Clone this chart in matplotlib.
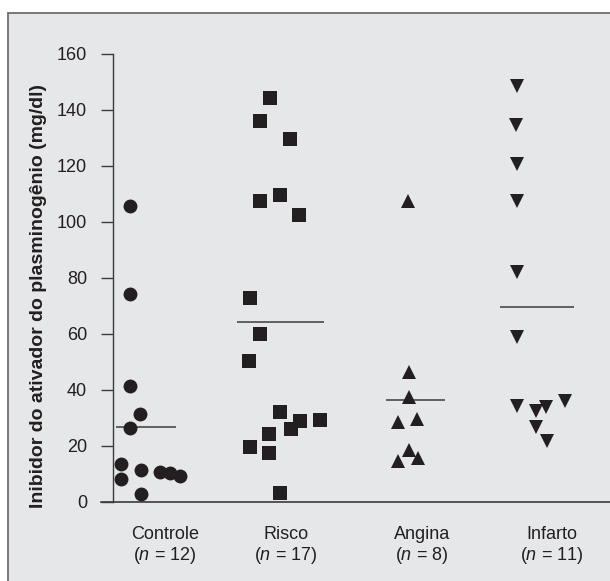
import matplotlib
matplotlib.use('Agg')
import matplotlib.pyplot as plt
from matplotlib.patches import Rectangle

# grupos
grupos = ['Controle', 'Risco', 'Angina', 'Infarto']
n_grupo = [12, 17, 8, 11]

# valores (mg/dl) e deslocamento horizontal de cada ponto dentro do grupo
controle = [105.8, 74.4, 41.4, 31.4, 26.3, 13.4, 8.3, 11.6, 10.7, 10.2, 9.4, 2.7]
controle_dx = [-0.136, -0.136, -0.136, -0.059, -0.136, -0.21, -0.21, -0.054, 0.095, 0.169, 0.248, -0.054]

risco = [144.2, 136.2, 129.8, 109.8, 107.6, 102.5, 72.7, 60.0, 50.2, 32.3, 29.0, 29.3, 26.0, 24.2, 19.6, 17.4, 3.1]
risco_dx = [-0.062, -0.141, 0.092, 0.013, -0.141, 0.162, -0.218, -0.141, -0.223, 0.015, 0.172, 0.323, 0.098, -0.067, -0.218, -0.067, 0.013]

angina = [107.6, 46.5, 37.6, 28.7, 29.5, 18.6, 14.6, 15.6]
angina_dx = [-0.002, 0.01, 0.01, -0.075, 0.067, 0.008, -0.075, 0.079]

infarto = [148.6, 134.5, 120.7, 107.5, 82.1, 59.0, 34.3, 32.6, 33.8, 36.2, 26.9, 21.8]
infarto_dx = [-0.164, -0.169, -0.162, -0.162, -0.162, -0.164, -0.164, -0.018, 0.062, 0.208, -0.015, 0.069]

# linha da media
medias = [26.9, 64.4, 36.3, 69.8]

yticks = [0, 20, 40, 60, 80, 100, 120, 140, 160]

# layout
marcadores = ['o', 's', '^', 'v']
tam = [10, 10, 10.5, 10.5]
spans = [(-0.248, 0.215), (-0.313, 0.356), (-0.172, 0.285), (-0.292, 0.277)]
label_x = [0.131, 1.062, 2.108, 3.108]

plt.rcParams['font.family'] = ['Liberation Sans', 'DejaVu Sans']
plt.rcParams['mathtext.fontset'] = 'custom'
plt.rcParams['mathtext.it'] = 'Liberation Sans:italic'
plt.rcParams['mathtext.rm'] = 'Liberation Sans'

fundo = '#e6e7e8'
escuro = '#231f20'
eixo = '#3a3a3c'

fig = plt.figure(figsize=(6.1, 5.81), dpi=100)
fig.patch.set_facecolor('white')
fig.add_artist(Rectangle((7.5 / 610, -0.05), 1.2, 1 - 13 / 581 + 0.05,
                         transform=fig.transFigure, facecolor=fundo,
                         edgecolor='#6d6e71', lw=1.3, zorder=0))

ax = fig.add_axes([101 / 610, 79 / 581, 509 / 610, 448 / 581])
ax.set_facecolor('none')

valores = [controle, risco, angina, infarto]
deslocs = [controle_dx, risco_dx, angina_dx, infarto_dx]
for i in range(len(grupos)):
    xs = [i + d for d in deslocs[i]]
    ax.plot(xs, valores[i], linestyle='none', marker=marcadores[i],
            markersize=tam[i], color=escuro, markeredgewidth=0, clip_on=False, zorder=3)
    ax.hlines(medias[i], i + spans[i][0], i + spans[i][1], color='#3c3c3e', lw=1.1, zorder=2)

ax.set_xlim(-0.3615, 3.5538)
ax.set_ylim(0, 160)
ax.set_yticks(yticks)
ax.set_xticks(label_x)
ax.set_xticklabels(['{}\n($n$ = {})'.format(g, n) for g, n in zip(grupos, n_grupo)],
                   fontsize=13, color='#231f20', linespacing=1.15)
ax.tick_params(axis='x', length=0, pad=17)
ax.tick_params(axis='y', length=8.6, width=1.0, color=eixo, pad=10, labelsize=13,
               labelcolor='#231f20')

for s in ['top', 'right']:
    ax.spines[s].set_visible(False)
ax.spines['left'].set_position(('data', -0.269))
ax.spines['left'].set_color(eixo)
ax.spines['bottom'].set_color(eixo)
ax.spines['left'].set_linewidth(1.0)
ax.spines['bottom'].set_linewidth(1.2)

ax.set_ylabel('Inibidor do ativador do plasminogênio (mg/dl)', fontsize=14,
              fontweight='bold', color='#231f20',
              family=['Liberation Sans Narrow', 'Liberation Sans', 'DejaVu Sans'])
ax.yaxis.set_label_coords(-0.106, 0.459)

plt.savefig('out.png', dpi=100, facecolor=fig.get_facecolor())
